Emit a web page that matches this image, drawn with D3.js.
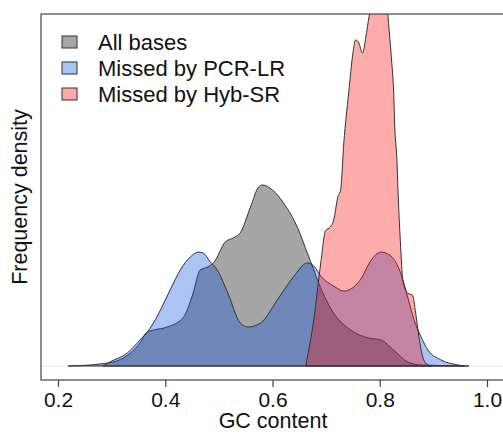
<!DOCTYPE html>
<html>
<head>
<meta charset="utf-8">
<script src="https://cdn.jsdelivr.net/npm/d3@7"></script>
<style>
  html, body { margin: 0; padding: 0; background: #fff; }
  svg { display: block; font-family: "Liberation Sans", Arial, sans-serif; }
</style>
</head>
<body>
<svg id="chart" width="503" height="438"></svg>
<script>
// ---- data ----
const seriesNames = ["All bases", "Missed by PCR-LR", "Missed by Hyb-SR"];
const xTicks = [0.2, 0.4, 0.6, 0.8, 1.0];

const gcAll   = [0.219,0.279,0.310,0.335,0.353,0.366,0.378,0.404,0.434,0.452,0.465,0.479,0.490,0.512,0.527,0.540,0.559,0.574,0.581,0.600,0.621,0.647,0.665,0.675,0.686,0.714,0.746,0.778,0.802,0.826,0.852,0.877,0.966];
const densAll = [0,   0.06, 0.15, 0.38, 0.68, 1.00, 1.06, 1.15, 1.44, 2.15, 2.83, 2.92, 3.04, 3.66, 3.78, 3.93, 4.69, 5.28, 5.34, 5.19, 4.80, 4.07, 3.33, 2.92, 2.45, 1.56, 1.06, 0.83, 0.77, 0.47, 0.12, 0.03, 0];

const gcPCR   = [0.284,0.297,0.329,0.353,0.372,0.391,0.409,0.428,0.447,0.462,0.471,0.484,0.497,0.516,0.540,0.555,0.578,0.609,0.639,0.665,0.677,0.690,0.714,0.733,0.746,0.765,0.783,0.802,0.821,0.839,0.852,0.864,0.877,0.890,0.914,0.946,0.957];
const densPCR = [0,   0.12, 0.38, 0.77, 1.12, 1.65, 2.24, 2.83, 3.22, 3.36, 3.33, 3.07, 2.83, 2.18, 1.27, 1.15, 1.27, 1.95, 2.63, 3.04, 2.95, 2.65, 2.36, 2.21, 2.27, 2.57, 3.10, 3.36, 3.24, 2.74, 2.04, 1.36, 0.86, 0.47, 0.18, 0.03, 0];

const gcHyb   = [0.662,0.669,0.677,0.690,0.699,0.708,0.714,0.722,0.727,0.733,0.742,0.750,0.755,0.761,0.768,0.774,0.780,0.787,0.798,0.809,0.815,0.817,0.822,0.826,0.828,0.832,0.834,0.839,0.843,0.852,0.861,0.867,0.873,0.882,0.890,0.896];
const densHyb = [0,   0.6,  1.36, 3.04, 4.0,  4.1,  4.3,  5.0,  5.19, 6.58, 8.05, 9.23, 9.62, 9.53, 9.23, 9.7,  10.3, 10.8, 11.1, 10.9, 10.4, 10.0, 9.03, 8.05, 7.05, 6.08, 5.19, 3.51, 2.54, 2.15, 2.09, 1.56, 0.86, 0.18, 0.03, 0];

const series = [
  { name: seriesNames[0], gc: gcAll, dens: densAll, fill: "rgba(0,0,0,0.35)",     key: "#a6a6a6" },
  { name: seriesNames[1], gc: gcPCR, dens: densPCR, fill: "rgba(0,76,224,0.33)",  key: "#a9c3f5" },
  { name: seriesNames[2], gc: gcHyb, dens: densHyb, fill: "rgba(250,15,15,0.35)", key: "#fda8a8" }
];

// ---- layout ----
const svg = d3.select("#chart");
const box = { left: 41, top: 14, right: 512, bottom: 380 };
const x = d3.scaleLinear().domain([0.2, 1.0]).range([58, 487]);
const y = d3.scaleLinear().domain([0, 10]).range([366, 27]);

svg.append("defs").append("clipPath").attr("id", "plotclip")
  .append("rect")
  .attr("x", box.left).attr("y", box.top)
  .attr("width", box.right - box.left).attr("height", box.bottom - box.top);

const plot = svg.append("g").attr("clip-path", "url(#plotclip)");

// faint zero line
plot.append("line")
  .attr("x1", box.left).attr("x2", box.right)
  .attr("y1", y(0)).attr("y2", y(0))
  .attr("stroke", "#e6e6e6").attr("stroke-width", 1);

const area = d3.area()
  .x(d => x(d[0]))
  .y0(y(0))
  .y1(d => y(d[1]))
  .curve(d3.curveMonotoneX);

series.forEach(s => {
  const pts = s.gc.map((g, i) => [g, s.dens[i]]);
  plot.append("path")
    .datum(pts)
    .attr("d", area)
    .attr("fill", s.fill)
    .attr("stroke", "#333")
    .attr("stroke-width", 1)
    .attr("stroke-linejoin", "round");
});

// box
svg.append("rect")
  .attr("x", box.left).attr("y", box.top)
  .attr("width", box.right - box.left).attr("height", box.bottom - box.top)
  .attr("fill", "none").attr("stroke", "#444").attr("stroke-width", 1.2);

// x axis
const xAxis = d3.axisBottom(x).tickValues(xTicks).tickSize(7).tickPadding(5)
  .tickFormat(d3.format(".1f"));
const gx = svg.append("g").attr("transform", `translate(0,${box.bottom})`).call(xAxis);
gx.select(".domain").remove();
gx.selectAll(".tick line").attr("stroke", "#444").attr("stroke-width", 1.2);
gx.selectAll(".tick text")
  .attr("fill", "#111")
  .style("font-size", "21px")
  .style("font-family", "'Liberation Sans', Arial, sans-serif");

// axis titles
svg.append("text")
  .attr("x", 273).attr("y", 428)
  .attr("text-anchor", "middle")
  .style("font-size", "21.5px").attr("fill", "#111")
  .text("GC content");

svg.append("text")
  .attr("transform", "translate(27,197) rotate(-90)")
  .attr("text-anchor", "middle")
  .style("font-size", "21.5px").attr("fill", "#111")
  .text("Frequency density");

// legend
const leg = svg.append("g");
series.forEach((s, i) => {
  const cy = 42 + i * 26;
  leg.append("rect")
    .attr("x", 62).attr("y", cy - 6)
    .attr("width", 15).attr("height", 12)
    .attr("fill", s.key).attr("stroke", "#333").attr("stroke-width", 1);
  leg.append("text")
    .attr("x", 98).attr("y", cy + 7.5)
    .style("font-size", "22px").attr("fill", "#111")
    .text(s.name);
});
</script>
</body>
</html>
